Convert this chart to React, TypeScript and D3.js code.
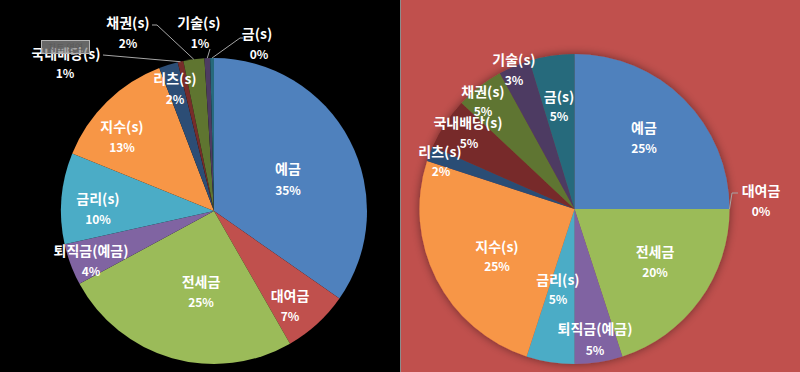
import React from "react";
import * as d3 from "d3";

const categories = ["예금", "대여금", "전세금", "퇴직금(예금)", "금리(s)", "지수(s)", "리츠(s)", "국내배당(s)", "채권(s)", "기술(s)", "금(s)"];
const leftValues = [34.6, 7.0, 25.3, 4.4, 9.6, 13.0, 2.0, 0.6, 2.2, 0.6, 0.4];
const rightValues = [25, 0, 20, 5, 5, 25, 1.6, 5.4, 5, 3.3, 4.7];
const colors = ["#4F81BD", "#C0504D", "#9BBB59", "#8064A2", "#4BACC6", "#F79646", "#2C4D75", "#772C2A", "#5F7530", "#4D3B62", "#276A7C"];

// label layout (pixel positions of name line / percent line centres)
const leftLabelPos: [number, number, number, number][] = [
  [288, 168, 288, 189],
  [290, 295, 290, 315],
  [201, 281, 201, 301],
  [91, 250, 91, 270],
  [98, 198, 98, 218],
  [122, 126, 122, 146],
  [175, 78, 175, 98],
  [66, 53, 65, 72],
  [128, 22, 128, 42],
  [199, 22, 200, 42],
  [257, 33, 259, 53],
];
const rightLabelPos: [number, number, number, number][] = [
  [644, 127, 644, 147],
  [761, 190, 761, 210],
  [655, 251, 655, 271],
  [595, 328, 595, 349],
  [558, 279, 558, 298],
  [497, 246, 497, 265],
  [440, 151, 441, 170],
  [468, 122, 469, 142],
  [483, 91, 483, 110],
  [514, 59, 514, 79],
  [559, 96, 559, 115],
];
// leader line elbows: [index, elbow points...]
const leftLeaders: { i: number; pts: [number, number][] }[] = [
  { i: 7, pts: [[103, 55]] },
  { i: 8, pts: [[157, 25], [152, 25]] },
  { i: 9, pts: [[210, 49]] },
  { i: 10, pts: [[240, 38], [243, 38]] },
];
const rightLeaders: { i: number; pts: [number, number][] }[] = [
  { i: 1, pts: [[732, 193], [738, 193]] },
];

type PieProps = {
  values: number[];
  cx: number;
  cy: number;
  r: number;
  labels: [number, number, number, number][];
  leaders: { i: number; pts: [number, number][] }[];
  shadow?: boolean;
};

function Pie({ values, cx, cy, r, labels, leaders, shadow }: PieProps) {
  const pie = d3.pie<number>().sort(null).value((d) => d);
  const arcs = pie(values);
  const arc = d3.arc<d3.PieArcDatum<number>>().innerRadius(0).outerRadius(r);
  const total = d3.sum(values);
  const line = d3.line();
  return (
    <g>
      <g transform={`translate(${cx},${cy})`} filter={shadow ? "url(#pieShadow)" : undefined}>
        {arcs.map((a, i) => (
          <path key={i} d={arc(a) || ""} fill={colors[i]} />
        ))}
      </g>
      {leaders.map((l, k) => {
        const a = arcs[l.i];
        const mid = (a.startAngle + a.endAngle) / 2;
        const start: [number, number] = [cx + r * Math.sin(mid), cy - r * Math.cos(mid)];
        return (
          <path key={k} d={line([start, ...l.pts]) || ""} fill="none" stroke="#a6a6a6" strokeWidth={1} />
        );
      })}
      {arcs.map((a, i) => {
        const p = labels[i];
        const pct = Math.round((values[i] / total) * 100);
        return (
          <g key={i} fill="#ffffff" fontFamily="'Noto Sans CJK KR', 'Noto Sans', sans-serif" fontWeight="bold" textAnchor="middle">
            <text x={p[0]} y={p[1]} fontSize={14} dominantBaseline="central">{categories[i]}</text>
            <text x={p[2]} y={p[3]} fontSize={12} dominantBaseline="central">{pct}%</text>
          </g>
        );
      })}
    </g>
  );
}

export default function App() {
  return (
    <svg width={800} height={372} style={{ position: "absolute", left: 0, top: 0, display: "block" }}>
      <defs>
        <filter id="pieShadow" x="-20%" y="-20%" width="140%" height="140%">
          <feDropShadow dx="0" dy="0" stdDeviation="5" floodColor="#000000" floodOpacity="0.45" />
        </filter>
      </defs>
      <rect x={0} y={0} width={400} height={372} fill="#000000" />
      <rect x={401} y={0} width={399} height={372} fill="#C0504D" />
      <line x1={400.5} y1={0} x2={400.5} y2={372} stroke="#8c8c8c" strokeWidth={1} />
      <Pie values={leftValues} cx={214} cy={211} r={153} labels={leftLabelPos} leaders={leftLeaders} />
      <Pie values={rightValues} cx={574.5} cy={209} r={155} labels={rightLabelPos} leaders={rightLeaders} shadow />
      <g>
        <rect x={41.5} y={40.5} width={48} height={13} fill="#8a8a8a" fillOpacity={0.75} stroke="#b4b4b4" strokeWidth={1} />
        <text x={65.5} y={47} fontSize={9} fill="#5a5a5a" textAnchor="middle" dominantBaseline="central" fontFamily="'Noto Sans CJK KR', sans-serif">차트 영역</text>
      </g>
    </svg>
  );
}
